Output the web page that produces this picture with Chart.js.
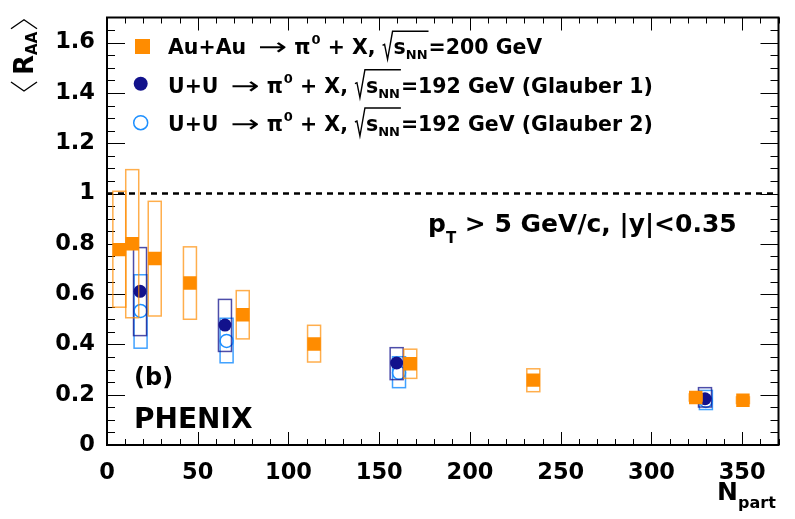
<!DOCTYPE html>
<html>
<head>
<meta charset="utf-8">
<script src="https://cdn.jsdelivr.net/npm/chart.js@4.4.1/dist/chart.umd.min.js"></script>
<style>
  html, body { margin: 0; padding: 0; background: #fff; }
  #wrap { width: 795px; height: 519px; }
</style>
</head>
<body>
<div id="wrap"><canvas id="raaChart" width="795" height="519"></canvas></div>
<script>
// Au+Au -> pi0 + X, sqrt(sNN)=200 GeV
const auNpart = [6.8, 13.9, 26.3, 45.7, 74.8, 114.1, 167.1, 234.9, 324.4, 350.4];
const auRaa = [0.777, 0.800, 0.742, 0.644, 0.518, 0.402, 0.323, 0.258, 0.189, 0.178];
const auSysLow = [0.548, 0.506, 0.513, 0.500, 0.422, 0.330, 0.265, 0.212, 0.175, 0.165];
const auSysHigh = [1.009, 1.095, 0.969, 0.788, 0.614, 0.476, 0.381, 0.303, 0.203, 0.191];

// U+U -> pi0 + X, sqrt(sNN)=192 GeV (Glauber 1)
const uu1Npart = [18.2, 65.0, 159.6, 329.5];
const uu1Raa = [0.611, 0.477, 0.326, 0.184];
const uu1SysLow = [0.435, 0.372, 0.260, 0.151];
const uu1SysHigh = [0.785, 0.579, 0.387, 0.228];

// U+U -> pi0 + X, sqrt(sNN)=192 GeV (Glauber 2)
const uu2Npart = [18.5, 65.9, 160.9, 330.0];
const uu2Raa = [0.533, 0.414, 0.287, 0.175];
const uu2SysLow = [0.385, 0.327, 0.228, 0.141];
const uu2SysHigh = [0.677, 0.504, 0.351, 0.217];

const xTicks = [0, 50, 100, 150, 200, 250, 300, 350];
const xTickLabels = ['0', '50', '100', '150', '200', '250', '300', '350'];
const yTicks = [0, 0.2, 0.4, 0.6, 0.8, 1.0, 1.2, 1.4, 1.6];
const yTickLabels = ['0', '0.2', '0.4', '0.6', '0.8', '1', '1.2', '1.4', '1.6'];

const legendSystems = ['Au+Au', 'U+U', 'U+U'];
const legendEnergies = ['200', '192', '192'];
const legendSuffixes = ['', ' (Glauber 1)', ' (Glauber 2)'];

const FONT = '"DejaVu Sans"';

function points(xs, ys, lo, hi) {
  return xs.map((x, i) => ({ x: x, y: ys[i], lo: lo[i], hi: hi[i] }));
}

const datasets = [
  {
    label: 'Au+Au',
    data: points(auNpart, auRaa, auSysLow, auSysHigh),
    pointStyle: 'rect',
    pointRadius: 9.5,
    backgroundColor: '#ff8c00',
    borderWidth: 0,
    sysColor: 'rgba(255,140,0,0.7)',
  },
  {
    label: 'U+U Glauber 1',
    data: points(uu1Npart, uu1Raa, uu1SysLow, uu1SysHigh),
    pointStyle: 'circle',
    pointRadius: 6.5,
    backgroundColor: '#12128c',
    borderWidth: 0,
    sysColor: 'rgba(18,18,140,0.75)',
  },
  {
    label: 'U+U Glauber 2',
    data: points(uu2Npart, uu2Raa, uu2SysLow, uu2SysHigh),
    pointStyle: 'circle',
    pointRadius: 6.5,
    backgroundColor: 'rgba(0,0,0,0)',
    borderColor: '#1e90ff',
    borderWidth: 1.5,
    sysColor: 'rgba(30,144,255,0.85)',
  },
];

// systematic boxes, drawn just before each dataset's markers
const sysBoxes = {
  id: 'sysBoxes',
  beforeDatasetDraw(chart, args) {
    const ds = chart.data.datasets[args.index];
    const ctx = chart.ctx;
    const xs = chart.scales.x, ys = chart.scales.y;
    const hw = 6.5;
    ctx.save();
    ctx.strokeStyle = ds.sysColor;
    ctx.lineWidth = 1.5;
    ds.data.forEach((p) => {
      const px = xs.getPixelForValue(p.x);
      const top = ys.getPixelForValue(p.hi);
      const bot = ys.getPixelForValue(p.lo);
      ctx.strokeRect(px - hw, top, hw * 2, bot - top);
    });
    ctx.restore();
  },
};

// ROOT-like frame with ticks inside, and dashed line at 1
const frame = {
  id: 'frame',
  beforeDatasetsDraw(chart) {
    const ctx = chart.ctx;
    const a = chart.chartArea;
    const xs = chart.scales.x, ys = chart.scales.y;
    ctx.save();
    ctx.strokeStyle = '#000';
    ctx.lineWidth = 1;
    ctx.beginPath();
    for (let v = 0; v <= 370.001; v += 10) {
      const px = Math.round(xs.getPixelForValue(v)) + 0.5;
      const major = Math.abs(v % 50) < 0.001;
      const len = major ? 13 : 6;
      ctx.moveTo(px, a.bottom); ctx.lineTo(px, a.bottom - len);
      ctx.moveTo(px, a.top); ctx.lineTo(px, a.top + len);
    }
    for (let k = 0; k <= 34; k++) {
      const v = k * 0.05;
      const py = Math.round(ys.getPixelForValue(v)) + 0.5;
      const len = k % 4 === 0 ? 18 : 8;
      ctx.moveTo(a.left, py); ctx.lineTo(a.left + len, py);
      ctx.moveTo(a.right, py); ctx.lineTo(a.right - len, py);
    }
    ctx.stroke();

    ctx.lineWidth = 2;
    ctx.strokeRect(a.left, a.top, a.right - a.left, a.bottom - a.top);

    const y1 = ys.getPixelForValue(1.0);
    ctx.setLineDash([6, 5]);
    ctx.lineWidth = 2.5;
    ctx.beginPath();
    ctx.moveTo(a.left, y1);
    ctx.lineTo(a.right, y1);
    ctx.stroke();
    ctx.restore();
  },
};

function drawSqrt(ctx, x0, x1, base, top) {
  ctx.save();
  ctx.lineWidth = 1.4;
  ctx.beginPath();
  ctx.moveTo(x0, base - 9);
  ctx.lineTo(x0 + 2, base - 10);
  ctx.lineTo(x0 + 5, base + 5);
  ctx.lineTo(x0 + 10, top);
  ctx.lineTo(x1, top);
  ctx.stroke();
  ctx.restore();
}

function drawLegendLine(ctx, x, base, i) {
  const big = 'bold 20.5px ' + FONT;
  const small = 'bold 13px ' + FONT;
  ctx.font = big;
  ctx.fillText(legendSystems[i], x, base);
  x += ctx.measureText(legendSystems[i]).width + 12;
  // long thin arrow
  ctx.save();
  ctx.translate(x, base + 1);
  ctx.scale(1.45, 1);
  ctx.font = '24px ' + FONT;
  ctx.fillText('\u2192', 0, 0);
  x += ctx.measureText('\u2192').width * 1.45 + 7;
  ctx.restore();
  ctx.font = big;
  ctx.fillText('\u03c0', x, base);
  x += ctx.measureText('\u03c0').width + 1;
  ctx.font = small;
  ctx.fillText('0', x, base - 10);
  x += ctx.measureText('0').width;
  ctx.font = big;
  ctx.fillText(' + X,', x, base);
  x += ctx.measureText(' + X,').width + 7;
  const sx = x;
  x += 11;
  ctx.fillText('s', x, base);
  x += ctx.measureText('s').width;
  ctx.font = small;
  ctx.fillText('NN', x, base + 5);
  x += ctx.measureText('NN').width + 1;
  drawSqrt(ctx, sx, x, base, base - 23);
  ctx.font = big;
  ctx.fillText('=' + legendEnergies[i] + ' GeV' + legendSuffixes[i], x, base);
}

const annotations = {
  id: 'annotations',
  afterDraw(chart) {
    const ctx = chart.ctx;
    ctx.save();
    ctx.fillStyle = '#000';
    ctx.strokeStyle = '#000';
    ctx.textBaseline = 'alphabetic';
    ctx.textAlign = 'left';

    // legend
    const markers = [[142.5, 46.5], [140.7, 83.7], [140.7, 122.7]];
    const bases = [54.3, 92.7, 131];
    datasets.forEach((ds, i) => {
      ctx.fillStyle = ds.backgroundColor;
      ctx.strokeStyle = ds.borderColor || ds.backgroundColor;
      ctx.lineWidth = ds.borderWidth;
      ctx.beginPath();
      if (ds.pointStyle === 'rect') {
        ctx.fillRect(markers[i][0] - 7.5, markers[i][1] - 7.5, 15, 15);
      } else {
        ctx.arc(markers[i][0], markers[i][1], 7, 0, Math.PI * 2);
        if (ds.borderWidth) ctx.stroke(); else ctx.fill();
      }
      ctx.fillStyle = '#000';
      ctx.strokeStyle = '#000';
      drawLegendLine(ctx, 168, bases[i], i);
    });

    // kinematic cut label
    let x = 428;
    ctx.font = 'bold 25px ' + FONT;
    ctx.fillText('p', x, 231.7);
    x += ctx.measureText('p').width;
    ctx.font = 'bold 15px ' + FONT;
    ctx.fillText('T', x, 243);
    x += ctx.measureText('T').width;
    ctx.font = 'bold 25px ' + FONT;
    ctx.fillText(' > 5 GeV/c, |y|<0.35', x, 231.7);

    // panel label and experiment
    ctx.font = 'bold 24px ' + FONT;
    ctx.fillText('(b)', 134, 385);
    ctx.font = 'bold 28px ' + FONT;
    ctx.fillText('PHENIX', 134, 428);

    // x title
    ctx.font = 'bold 25px ' + FONT;
    ctx.fillText('N', 717, 500);
    ctx.font = 'bold 16px ' + FONT;
    ctx.fillText('part', 738, 508);

    // y title, rotated
    ctx.translate(33, 94);
    ctx.rotate(-Math.PI / 2);
    ctx.lineWidth = 1.4;
    ctx.beginPath();
    ctx.moveTo(12, -22); ctx.lineTo(3, -9); ctx.lineTo(12, 4);
    ctx.stroke();
    ctx.font = 'bold 26px ' + FONT;
    ctx.fillText('R', 19, 0);
    let u = 19 + ctx.measureText('R').width;
    ctx.font = 'bold 15px ' + FONT;
    ctx.fillText('AA', u, 4);
    u += ctx.measureText('AA').width + 3;
    ctx.beginPath();
    ctx.moveTo(u, -22); ctx.lineTo(u + 9, -9); ctx.lineTo(u, 4);
    ctx.stroke();
    ctx.restore();
  },
};

const tickFont = { family: 'DejaVu Sans', weight: 'bold', size: 22.5 };

const config = {
  type: 'scatter',
  data: { datasets: datasets },
  options: {
    responsive: false,
    animation: false,
    devicePixelRatio: 1,
    layout: { padding: { top: 14, right: 16.5, left: 0, bottom: 0 } },
    plugins: { legend: { display: false }, tooltip: { enabled: false } },
    scales: {
      x: {
        type: 'linear',
        min: 0,
        max: 370,
        grid: { display: false },
        border: { display: false },
        afterBuildTicks: (scale) => { scale.ticks = xTicks.map((v) => ({ value: v })); },
        afterFit: (scale) => { scale.height = 74; },
        ticks: {
          autoSkip: false,
          maxRotation: 0,
          padding: 7,
          color: '#000',
          font: tickFont,
          callback: (v) => xTickLabels[xTicks.indexOf(v)],
        },
      },
      y: {
        type: 'linear',
        min: 0,
        max: 1.7,
        grid: { display: false },
        border: { display: false },
        afterBuildTicks: (scale) => { scale.ticks = yTicks.map((v) => ({ value: v })); },
        afterFit: (scale) => { scale.width = 107; },
        ticks: {
          autoSkip: false,
          padding: 4,
          color: '#000',
          font: tickFont,
          callback: (v) => yTickLabels[yTicks.findIndex((t) => Math.abs(t - v) < 1e-6)],
        },
      },
    },
  },
  plugins: [frame, sysBoxes, annotations],
};

const raaChart = new Chart(document.getElementById('raaChart'), config);
</script>
</body>
</html>
